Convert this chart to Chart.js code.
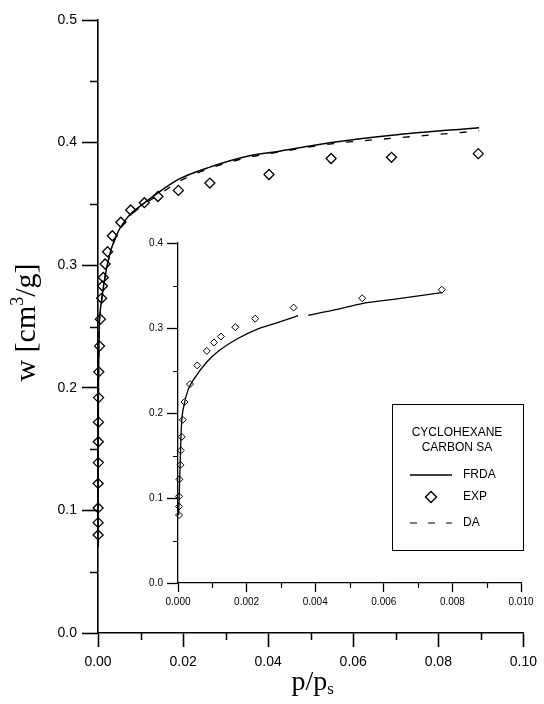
<!DOCTYPE html>
<html>
<head>
<meta charset="utf-8">
<script src="https://cdn.jsdelivr.net/npm/chart.js@4"></script>
<style>
  html, body { margin: 0; padding: 0; background: #fff; }
  #wrap { position: relative; width: 544px; height: 704px; }
  #wrap canvas { position: absolute; left: 0; top: 0; }
</style>
</head>
<body>
<div id="wrap">
  <canvas id="main" width="544" height="704"></canvas>
  <canvas id="inset" width="544" height="704"></canvas>
</div>
<script>
// Cyclohexane on carbon SA: adsorbed volume w [cm3/g] vs relative pressure p/ps

// Experimental points
const expP = [0.00003, 0.00003, 0.00003, 0.00004, 0.00007, 0.00008, 0.00011, 0.00014, 0.00019, 0.00035,
              0.00056, 0.00084, 0.00105, 0.00125, 0.00167, 0.00225, 0.00337, 0.00537, 0.00769,
              0.0109, 0.0141, 0.0189, 0.0263, 0.0402, 0.0548, 0.0690, 0.0894];
const expW = [0.080, 0.090, 0.102, 0.122, 0.139, 0.156, 0.172, 0.192, 0.213, 0.234,
              0.256, 0.273, 0.283, 0.290, 0.301, 0.311, 0.324, 0.335, 0.345,
              0.351, 0.356, 0.361, 0.367, 0.374, 0.387, 0.388, 0.391];

// FRDA and DA model curves (main plot)
const modelP = [0.00001, 0.00003, 0.00006, 0.0001, 0.0002, 0.0003, 0.0005, 0.0008, 0.0014, 0.0024,
                0.0040, 0.0067, 0.0110, 0.0141, 0.0189, 0.0263, 0.0354, 0.0420, 0.0549, 0.0691, 0.0896];
const frdaW  = [0.070, 0.110, 0.160, 0.195, 0.230, 0.250, 0.262, 0.270, 0.285, 0.304,
                0.322, 0.338, 0.351, 0.359, 0.370, 0.380, 0.389, 0.3926, 0.400, 0.406, 0.4122];
const daW    = [0.070, 0.110, 0.160, 0.195, 0.230, 0.250, 0.262, 0.270, 0.285, 0.303,
                0.321, 0.337, 0.350, 0.357, 0.368, 0.379, 0.388, 0.392, 0.399, 0.4035, 0.4095];

// FRDA curve of the low-pressure inset (null = break in the trace)
const insetP = [0.00002, 0.00004, 0.00007, 0.0001, 0.00018, 0.0003, 0.00045, 0.00084, 0.00122, 0.00176,
                0.0023, 0.00288, 0.0035, 0.0036, 0.0038, 0.00453, 0.0054, 0.00628, 0.00769];
const insetW = [0.080, 0.110, 0.150, 0.185, 0.210, 0.228, 0.239, 0.260, 0.274, 0.288,
                0.2985, 0.306, 0.3145, null, 0.315, 0.321, 0.329, 0.3337, 0.3415];

// Axis ticks
const mainXTicks = [0, 0.02, 0.04, 0.06, 0.08, 0.10];
const mainYTicks = [0, 0.1, 0.2, 0.3, 0.4, 0.5];
const mainXMinor = [0.01, 0.03, 0.05, 0.07, 0.09];
const mainYMinor = [0.05, 0.15, 0.25, 0.35, 0.45];
const insetXTicks = [0, 0.002, 0.004, 0.006, 0.008, 0.010];
const insetYTicks = [0, 0.1, 0.2, 0.3, 0.4];
const insetXMinor = [0.001, 0.003, 0.005, 0.007, 0.009];
const insetYMinor = [0.05, 0.15, 0.25, 0.35];

const legendTitle = ['CYCLOHEXANE', 'CARBON SA'];
const legendItems = ['FRDA', 'EXP', 'DA'];

const pts = (xs, ys) => xs.map((x, i) => ({ x: x, y: ys[i] }));
const SANS = '"Liberation Sans", Arial, sans-serif';
const SERIF = '"Liberation Serif", "Times New Roman", serif';

function drawMinor(chart, id, values, len, width) {
  const s = chart.scales[id];
  const a = chart.chartArea;
  const ctx = chart.ctx;
  ctx.save();
  ctx.strokeStyle = '#000';
  ctx.lineWidth = width;
  ctx.beginPath();
  values.forEach(v => {
    const p = Math.round(s.getPixelForValue(v)) + 0.5;
    if (s.isHorizontal()) { ctx.moveTo(p, a.bottom); ctx.lineTo(p, a.bottom + len); }
    else { ctx.moveTo(a.left, p); ctx.lineTo(a.left - len, p); }
  });
  ctx.stroke();
  ctx.restore();
}

function scaleCfg(o) {
  return {
    type: 'linear',
    position: o.position,
    min: o.min, max: o.max,
    border: { display: true, color: '#000', width: o.lw },
    grid: { display: true, drawOnChartArea: false, drawTicks: true, tickLength: o.tl,
            tickColor: '#000', tickWidth: o.lw, color: '#000' },
    afterBuildTicks: s => { s.ticks = o.ticks.map(v => ({ value: v })); },
    ticks: { color: '#000', padding: o.pad, autoSkip: false, maxRotation: 0,
             font: { family: SANS, size: o.fs },
             callback: v => Number(v).toFixed(o.dec) },
    afterFit: s => { if (o.position === 'bottom') s.height = o.size; else s.width = o.size; }
  };
}

// ---------- main plot ----------
const mainDecor = {
  id: 'mainDecor',
  afterDraw(chart) {
    drawMinor(chart, 'x', mainXMinor, 7, 1.5);
    drawMinor(chart, 'y', mainYMinor, 8, 1.5);
    const ctx = chart.ctx;
    const a = chart.chartArea;
    ctx.save();
    ctx.fillStyle = '#000';
    ctx.textBaseline = 'alphabetic';
    // x title: p/p with subscript s
    const big = '28px ' + SERIF, small = '17px ' + SERIF;
    ctx.font = big;
    const w1 = ctx.measureText('p/p').width;
    ctx.font = small;
    const w2 = ctx.measureText('s').width;
    const cx = (a.left + a.right) / 2 + 2;
    let x0 = cx - (w1 + w2) / 2;
    ctx.font = big;
    ctx.fillText('p/p', x0, 690);
    ctx.font = small;
    ctx.fillText('s', x0 + w1, 694);
    // y title: w [cm^3/g]
    const yBig = '30px ' + SERIF, ySmall = '18px ' + SERIF;
    ctx.translate(35, (a.top + a.bottom) / 2 - 4);
    ctx.rotate(-Math.PI / 2);
    const parts = [['w [cm', yBig, 0], ['3', ySmall, -12], ['/g]', yBig, 0]];
    let tot = 0;
    parts.forEach(p => { ctx.font = p[1]; tot += ctx.measureText(p[0]).width; });
    let px = -tot / 2;
    parts.forEach(p => { ctx.font = p[1]; ctx.fillText(p[0], px, p[2]); px += ctx.measureText(p[0]).width; });
    ctx.restore();
  }
};

new Chart(document.getElementById('main'), {
  type: 'scatter',
  data: {
    datasets: [
      { label: 'EXP', data: pts(expP, expW), pointStyle: 'rectRot', pointRadius: 5,
        borderColor: '#000', backgroundColor: 'rgba(0,0,0,0)', pointBorderWidth: 1.3, clip: false },
      { label: 'FRDA', data: pts(modelP, frdaW), showLine: true, pointRadius: 0,
        borderColor: '#000', borderWidth: 1.5, cubicInterpolationMode: 'monotone', clip: false },
      { label: 'DA', data: pts(modelP, daW), showLine: true, pointRadius: 0,
        borderColor: '#000', borderWidth: 1.3, borderDash: [7, 12], cubicInterpolationMode: 'monotone', clip: false }
    ]
  },
  options: {
    responsive: false, animation: false, devicePixelRatio: 1,
    layout: { padding: { left: 0, top: 20, right: 17, bottom: 0 } },
    plugins: { legend: { display: false }, tooltip: { enabled: false } },
    scales: {
      x: scaleCfg({ position: 'bottom', min: 0, max: 0.1, ticks: mainXTicks, dec: 2, tl: 14, lw: 1.6, pad: 7, fs: 14, size: 71 }),
      y: scaleCfg({ position: 'left', min: 0, max: 0.5, ticks: mainYTicks, dec: 1, tl: 16, lw: 1.6, pad: 5, fs: 14, size: 98 })
    }
  },
  plugins: [mainDecor]
});

// ---------- inset ----------
const insetDecor = {
  id: 'insetDecor',
  afterDraw(chart) {
    drawMinor(chart, 'x', insetXMinor, 5, 1.2);
    drawMinor(chart, 'y', insetYMinor, 5, 1.2);
    const ctx = chart.ctx;
    const a = chart.chartArea;
    // legend box
    const L = a.right - 129, T = a.top + 161, W = 131, H = 146;
    ctx.save();
    ctx.strokeStyle = '#000';
    ctx.fillStyle = '#000';
    ctx.lineWidth = 1;
    ctx.strokeRect(L + 0.5, T + 0.5, W, H);
    ctx.font = '12px ' + SANS;
    ctx.textAlign = 'center';
    ctx.textBaseline = 'middle';
    ctx.fillText(legendTitle[0], L + 65, T + 29);
    ctx.fillText(legendTitle[1], L + 65, T + 44);
    ctx.textAlign = 'left';
    const rows = [T + 71, T + 93, T + 119];
    const lx0 = L + 18, lx1 = L + 60, tx = L + 71;
    // FRDA sample
    ctx.lineWidth = 1.3;
    ctx.beginPath(); ctx.moveTo(lx0, rows[0]); ctx.lineTo(lx1, rows[0]); ctx.stroke();
    // EXP sample
    const dcx = (lx0 + lx1) / 2, r = 5.5;
    ctx.lineWidth = 1.4;
    ctx.beginPath();
    ctx.moveTo(dcx, rows[1] - r); ctx.lineTo(dcx + r, rows[1]);
    ctx.lineTo(dcx, rows[1] + r); ctx.lineTo(dcx - r, rows[1]); ctx.closePath(); ctx.stroke();
    // DA sample
    ctx.lineWidth = 1.2;
    ctx.setLineDash([7, 11]);
    ctx.beginPath(); ctx.moveTo(lx0, rows[2]); ctx.lineTo(lx1, rows[2]); ctx.stroke();
    ctx.setLineDash([]);
    legendItems.forEach((t, i) => ctx.fillText(t, tx, rows[i]));
    ctx.restore();
  }
};

const insetExp = pts(expP, expW).filter(p => p.x <= 0.01);

new Chart(document.getElementById('inset'), {
  type: 'scatter',
  data: {
    datasets: [
      { label: 'EXP', data: insetExp, pointStyle: 'rectRot', pointRadius: 3.5,
        borderColor: '#000', backgroundColor: 'rgba(0,0,0,0)', pointBorderWidth: 1, clip: false },
      { label: 'FRDA', data: pts(insetP, insetW), showLine: true, spanGaps: false, pointRadius: 0,
        borderColor: '#000', borderWidth: 1.3, cubicInterpolationMode: 'monotone', clip: false }
    ]
  },
  options: {
    responsive: false, animation: false, devicePixelRatio: 1,
    layout: { padding: { left: 138, top: 243, right: 23, bottom: 91 } },
    plugins: { legend: { display: false }, tooltip: { enabled: false } },
    scales: {
      x: scaleCfg({ position: 'bottom', min: 0, max: 0.01, ticks: insetXTicks, dec: 3, tl: 9, lw: 1.3, pad: 4, fs: 10, size: 30 }),
      y: scaleCfg({ position: 'left', min: 0, max: 0.4, ticks: insetYTicks, dec: 1, tl: 11, lw: 1.3, pad: 4, fs: 10, size: 40 })
    }
  },
  plugins: [insetDecor]
});
</script>
</body>
</html>
